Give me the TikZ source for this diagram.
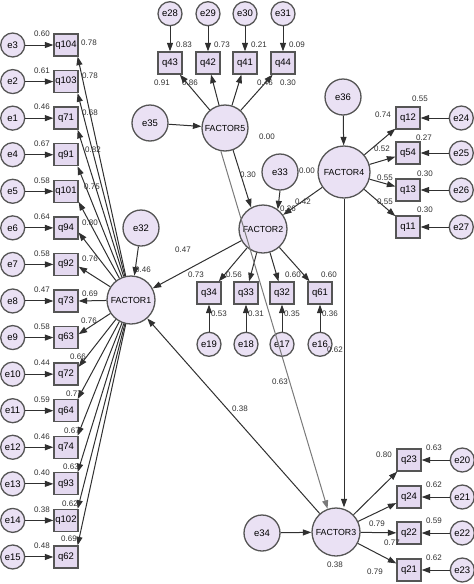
\documentclass[tikz,border=0pt]{standalone}
\usepackage{fontspec}
\setmainfont{Liberation Sans}
\usepackage{xcolor}
\definecolor{lineDark}{HTML}{303030}
\definecolor{lineGray}{HTML}{7A7A7A}
\definecolor{rimGray}{HTML}{555555}
\definecolor{nodeFill}{HTML}{EAE1F4}
\definecolor{boxFill}{HTML}{E4D9F0}
\usepackage{tikz}
\usetikzlibrary{positioning,arrows.meta}
\tikzset{%
  itemBox/.style={%
    rectangle,
    draw=rimGray,
    line width=1.3pt,
    fill=boxFill,
    minimum width=24pt,
    minimum height=22pt,
    inner sep=0pt,
    font=\fontsize{9.5}{11}\selectfont
  },
  errCircle/.style={%
    circle,
    draw=rimGray,
    line width=1.3pt,
    fill=nodeFill,
    minimum size=24pt,
    inner sep=0pt,
    font=\fontsize{9.5}{11}\selectfont
  },
  distCircle/.style={%
    errCircle,
    minimum size=36pt
  },
  factorCircle/.style={%
    errCircle,
    minimum size=48pt,
    font=\fontsize{8.8}{10}\selectfont
  },
  pathArrow/.style={%
    -{Triangle[length=8.5pt,width=6pt]},
    line width=1pt,
    color=lineDark
  },
  estLabel/.style={%
    font=\fontsize{8}{9}\selectfont,
    inner sep=0pt,
    text=lineDark
  }
}

\begin{document}
\begin{tikzpicture}[x=1pt, y=-1pt]
  \useasboundingbox (0,0) rectangle (474,584);

  \node[factorCircle] (fac1) at (131,300) {FACTOR1};
  \node[factorCircle] (fac2) at (263,229) {FACTOR2};
  \node[factorCircle] (fac3) at (336,532) {FACTOR3};
  \node[factorCircle, minimum size=52pt] (fac4) at (344,172) {FACTOR4};
  \node[factorCircle, minimum size=46pt] (fac5) at (225,128) {FACTOR5};

  \node[distCircle] (e32) at (141,228) {e32};
  \node[distCircle] (e33) at (280,172) {e33};
  \node[distCircle] (e34) at (262,533) {e34};
  \node[distCircle] (e35) at (150,123) {e35};
  \node[distCircle] (e36) at (343,97) {e36};

  % FACTOR1 items
  \foreach \e/\q/\v/\l/\lx/\ly/\a [count=\i from 0] in {%
      e3/q104/0.60/0.78/89/-2/-45, e2/q103/0.61/0.78/90/-6/-45,
      e1/q71/0.46/0.68/90/-5/-45, e4/q91/0.67/0.82/93/-5/-45,
      e5/q101/0.58/0.75/92/-5/-40, e6/q94/0.64/0.80/90/-5/-20,
      e7/q92/0.58/0.76/90/-6/-10, e8/q73/0.47/0.69/90/-7/0,
      e9/q63/0.58/0.76/89/-17/15, e10/q72/0.44/0.66/78/-17/30,
      e11/q64/0.59/0.77/74/-17/45, e12/q74/0.46/0.67/72/-17/45,
      e13/q93/0.40/0.63/71/-17/45, e14/q102/0.38/0.62/70/-17/45,
      e15/q62/0.48/0.69/69/-18/45} {
    \node[itemBox] (\q) at (66,{45+36.57*\i}) {\q};
    \node[errCircle, left=28pt of \q] (\e) {\e};
    \node[estLabel] at (42,{34+36.57*\i}) {\v};
    \node[estLabel] at (\lx,{45+36.57*\i+\ly}) {\l};
    \draw[pathArrow] (\e) -- (\q);
    \draw[pathArrow] (fac1) -- (\q.\a);
  }

  % FACTOR5 items
  \foreach \e/\q/\x/\v/\l/\lx in {%
      e28/q43/170/0.83/0.91/162, e29/q42/208/0.73/0.86/190,
      e30/q41/245/0.21/0.46/265, e31/q44/283/0.09/0.30/288} {
    \node[itemBox] (\q) at (\x,63) {\q};
    \node[errCircle, above=25pt of \q] (\e) {\e};
    \node[estLabel] at (\x+14,45) {\v};
    \node[estLabel] at (\lx,83) {\l};
    \draw[pathArrow] (\e) -- (\q);
    \draw[pathArrow] (fac5) -- (\q);
  }

  % FACTOR2 items
  \foreach \e/\q/\x/\v/\l/\lx in {%
      e19/q34/209/0.53/0.73/196, e18/q33/246/0.31/0.56/234,
      e17/q32/282/0.35/0.60/293, e16/q61/320/0.36/0.60/329} {
    \node[itemBox] (\q) at (\x,293) {\q};
    \node[errCircle, below=27pt of \q] (\e) {\e};
    \node[estLabel] at (\x+10,314) {\v};
    \node[estLabel] at (\lx,275) {\l};
    \draw[pathArrow] (\e) -- (\q);
    \draw[pathArrow] (fac2) -- (\q);
  }

  % FACTOR4 items
  \foreach \e/\q/\y/\v/\vx/\vy/\l/\lx/\ly in {%
      e24/q12/118/0.55/420/99/0.74/383/115,
      e25/q54/153/0.27/424/138/0.52/382/149,
      e26/q13/190/0.30/425/174/0.55/385/178,
      e27/q11/227/0.30/425/210/0.55/385/202} {
    \node[itemBox] (\q) at (408,\y) {\q};
    \node[errCircle, right=28pt of \q] (\e) {\e};
    \node[estLabel] at (\vx,\vy) {\v};
    \node[estLabel] at (\lx,\ly) {\l};
    \draw[pathArrow] (\e) -- (\q);
    \draw[pathArrow] (fac4) -- (\q);
  }

  % FACTOR3 items
  \foreach \e/\q/\y/\v/\l/\lx/\ly in {%
      e20/q23/460/0.63/0.80/384/455,
      e21/q24/497/0.62/0.79/377/524,
      e22/q22/533/0.59/0.77/392/543,
      e23/q21/570/0.62/0.79/375/572} {
    \node[itemBox] (\q) at (409,\y) {\q};
    \node[errCircle, right=28pt of \q] (\e) {\e};
    \node[estLabel] at (434,\y-12) {\v};
    \node[estLabel] at (\lx,\ly) {\l};
    \draw[pathArrow] (\e) -- (\q);
    \draw[pathArrow] (fac3) -- (\q);
  }

  \node[estLabel] at (143,270) {0.46};
  \node[estLabel] at (183,250) {0.47};
  \node[estLabel] at (240,409) {0.38};
  \node[estLabel] at (267,137) {0.00};
  \node[estLabel] at (248,175) {0.30};
  \node[estLabel] at (307,171) {0.00};
  \node[estLabel] at (303,202) {0.42};
  \node[estLabel] at (288,209) {0.26};
  \node[estLabel] at (335,350) {0.62};
  \node[estLabel] at (280,382) {0.63};
  \node[estLabel] at (335,565) {0.38};

  \draw[pathArrow] (e32) -- (fac1);
  \draw[pathArrow] (fac2) -- (fac1);
  \draw[pathArrow] (fac3) -- (fac1);
  \draw[pathArrow] (e35) -- (fac5);
  \draw[pathArrow] (fac5.-70) -- (fac2.119);
  \draw[pathArrow] (e33.south) -- (fac2.53);
  \draw[pathArrow] (fac4) -- (fac2);
  \draw[pathArrow] (e36) -- (fac4);
  \draw[pathArrow, color=lineGray] (fac5.-100) -- (fac3.110);
  \draw[pathArrow] (fac4.south) -- (fac4.south |- fac3.north);
  \draw[pathArrow] (e34) -- (fac3);
\end{tikzpicture}
\end{document}
